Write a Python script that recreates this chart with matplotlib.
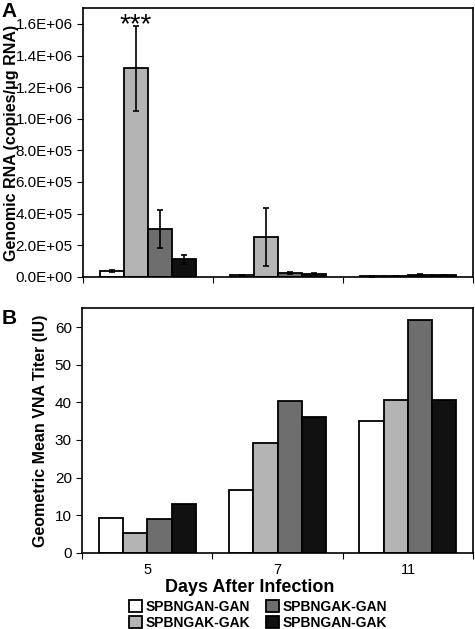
import matplotlib.pyplot as plt
import numpy as np
from matplotlib.ticker import FuncFormatter

plt.rcParams['font.family'] = ['Liberation Sans', 'DejaVu Sans']

days = ['5', '7', '11']
groups = ['SPBNGAN-GAN', 'SPBNGAK-GAK', 'SPBNGAK-GAN', 'SPBNGAN-GAK']
colors = ['white', '#b4b4b4', '#6e6e6e', '#111111']

# panel A: genomic RNA (copies/ug RNA)
rna = [[3.5e4, 1.32e6, 3.0e5, 1.1e5],
       [1.0e4, 2.5e5, 2.5e4, 2.0e4],
       [2.0e3, 5.0e3, 1.2e4, 8.0e3]]
rna_err = [[8e3, 2.7e5, 1.2e5, 3.0e4],
           [4e3, 1.85e5, 6e3, 5e3],
           [1e3, 2e3, 4e3, 2e3]]

# panel B: geometric mean VNA titer
vna = [[9.3, 5.4, 8.9, 12.9],
       [16.6, 29.2, 40.3, 36.1],
       [35.0, 40.5, 62.0, 40.5]]

fig = plt.figure(figsize=(4.75, 6.29), dpi=100)
axA = fig.add_axes([0.175, 0.560, 0.821, 0.427])
axB = fig.add_axes([0.173, 0.121, 0.823, 0.389])

x = np.arange(len(days))
w = 0.186
rna = np.array(rna)
rna_err = np.array(rna_err)
vna = np.array(vna)

for i in range(4):
    pos = x + (i - 1.5) * w
    axA.bar(pos, rna[:, i], w, color=colors[i], edgecolor='black', linewidth=1.3,
            label=groups[i])
    axA.errorbar(pos, rna[:, i], yerr=rna_err[:, i], fmt='none', ecolor='black',
                 elinewidth=1.2, capsize=2, capthick=1.2)
    axB.bar(pos, vna[:, i], w, color=colors[i], edgecolor='black', linewidth=1.3,
            label=groups[i])

axA.text(x[0] - 0.5 * w, 1.595e6, '***', ha='center', va='center', fontsize=20)

for ax in (axA, axB):
    ax.set_xlim(-0.5, 2.5)
    ax.set_xticks([-0.5, 0.5, 1.5, 2.5])
    ax.set_xticklabels([])
    ax.tick_params(axis='x', direction='out', length=4)
    ax.tick_params(axis='y', direction='out', length=4, labelsize=11)
    for s in ax.spines.values():
        s.set_linewidth(1.2)

axA.set_ylim(0, 1.7e6)
axA.set_yticks(np.arange(0, 1.61e6, 2e5))
axA.yaxis.set_major_formatter(FuncFormatter(lambda v, p: ('%.1E' % v)))
axA.set_ylabel('Genomic RNA (copies/\u03bcg RNA)', fontsize=11.5, fontweight='bold')
axA.yaxis.set_label_coords(-0.165, 0.5)

axB.set_ylim(0, 65)
axB.set_yticks(range(0, 61, 10))
axB.set_ylabel('Geometric Mean VNA Titer (IU)', fontsize=11.5, fontweight='bold')
axB.yaxis.set_label_coords(-0.087, 0.5)
for xi, d in zip(x, days):
    axB.text(xi, -2.6, d, ha='center', va='top', fontsize=10.5)
fig.text(250 / 475, 1 - 588 / 629, 'Days After Infection', ha='center', va='center',
         fontsize=13, fontweight='bold')

handles, labels = axB.get_legend_handles_labels()
fig.legend(handles, labels, loc='center', bbox_to_anchor=(258 / 475, 1 - 615 / 629),
           ncol=2, frameon=False, prop={'weight': 'bold', 'size': 10},
           handlelength=0.9, handleheight=0.9, handletextpad=0.25, columnspacing=1.2,
           labelspacing=0.15, borderaxespad=0, borderpad=0)

fig.text(0.003, 0.997, 'A', fontsize=15, fontweight='bold', va='top')
fig.text(0.003, 0.509, 'B', fontsize=15, fontweight='bold', va='top')

fig.savefig('out.png', dpi=100)
